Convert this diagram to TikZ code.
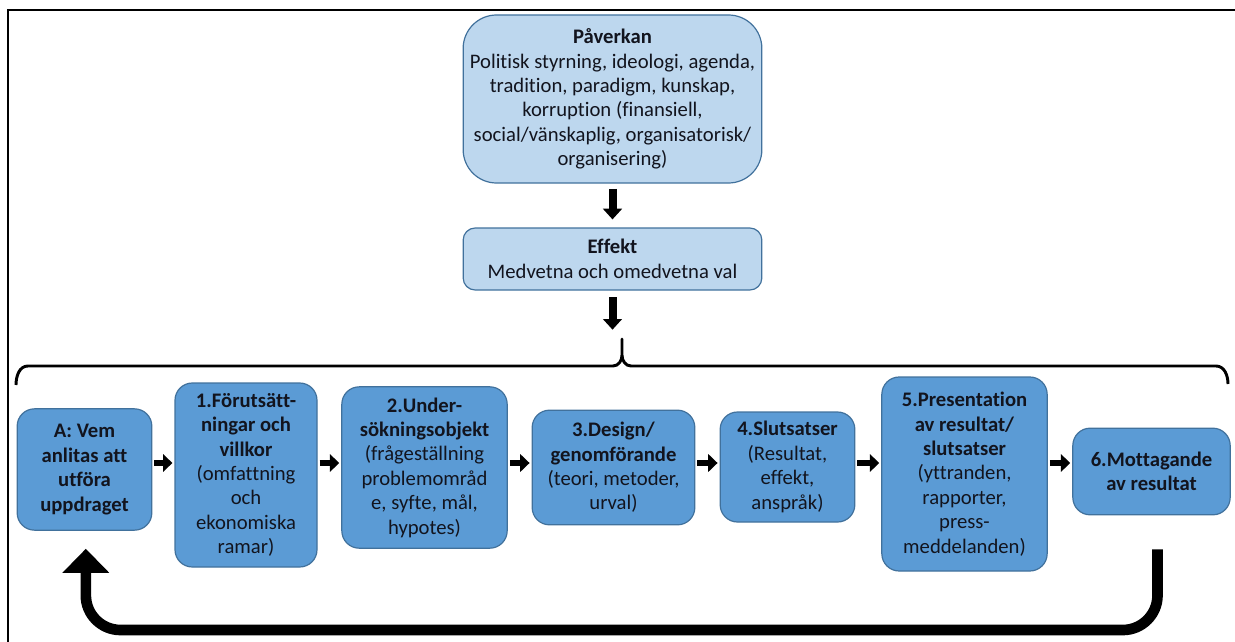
\documentclass[tikz,border=0pt]{standalone}
\usepackage{fontspec}
\setmainfont{Carlito}[Ligatures=NoCommon]
\usetikzlibrary{arrows.meta}
\definecolor{light blue}{RGB}{189, 215, 238}
\definecolor{mid blue}{RGB}{91, 155, 213}
\definecolor{edge blue}{RGB}{65, 113, 156}
\definecolor{ink}{RGB}{18, 20, 30}

\begin{document}
\begin{tikzpicture}[
        x=0.75pt, y=-0.75pt,
        every node/.style={
            font=\fontsize{15.5}{18.3}\selectfont,
            text=ink,
            align=center,
            inner sep=2pt
        },
        topbox/.style={draw=edge blue, line width=0.9pt, fill=light blue, minimum width=224pt},
        stagebox/.style={draw=edge blue, line width=0.9pt, fill=mid blue, rounded corners=13pt},
        bigarrow/.style={line width=6pt, -{Triangle[length=8pt,width=14pt]}},
        smallarrow/.style={line width=5pt, -{Triangle[length=7pt,width=13pt]}, shorten <=1.5pt, shorten >=1.5pt},
        backarrow/.style={line width=8pt, rounded corners=26pt, -{Triangle[length=18pt,width=34pt]}},
        framing/.style={line width=2.2pt}
    ]

    \useasboundingbox (0,0) rectangle (1235,642);
    \draw[framing] (8,642) -- (8,10) -- (1235,10);

    \node[topbox, minimum height=126pt, rounded corners=25pt] (pav) at (612.5,99)
        {\textbf{Påverkan}\\Politisk styrning, ideologi, agenda,\\tradition, paradigm, kunskap,\\korruption (finansiell,\\social/vänskaplig, organisatorisk/\\organisering)};
    \node[topbox, minimum height=46.5pt, rounded corners=9pt] (eff) at (612.5,259)
        {\textbf{Effekt}\\Medvetna och omedvetna val};

    \coordinate (cusp) at (622,339);
    \coordinate (lane) at (0,463);
    \coordinate (loop) at (0,630);

    \draw[bigarrow, shorten <=4pt, shorten >=6pt] (pav.south) -- (eff.north);
    \draw[bigarrow, shorten <=5pt, shorten >=7pt] (eff.south) -- (eff.south |- cusp);

    \draw[line width=2.2pt, line join=round] (16,385) to[out=90,in=180] (28,366) -- (613,366)
        to[out=0,in=-90] (622,355) -- (cusp) -- (622,355) to[out=-90,in=180] (631,366) -- (1216,366)
        to[out=0,in=90] (1228,384);

    \node[stagebox, minimum width=101pt, minimum height=91pt] (A) at (84.5,469.5)
        {\textbf{A: Vem}\\\textbf{anlitas att}\\\textbf{utföra}\\\textbf{uppdraget}};
    \node[stagebox, minimum width=106.5pt, minimum height=138pt] (B1) at (246,475)
        {\textbf{1.Förutsätt-}\\\textbf{ningar och}\\\textbf{villkor}\\(omfattning\\och\\ekonomiska\\ramar)};
    \node[stagebox, minimum width=124pt, minimum height=121pt] (B2) at (424.5,467.5)
        {\textbf{2.Under-}\\\textbf{sökningsobjekt}\\(frågeställning\\problemområd\\e, syfte, mål,\\hypotes)};
    \node[stagebox, minimum width=122pt, minimum height=86pt] (B3) at (613.5,467.5)
        {\textbf{3.Design/}\\\textbf{genomförande}\\(teori, metoder,\\urval)};
    \node[stagebox, minimum width=101pt, minimum height=82.5pt] (B4) at (787.5,467)
        {\textbf{4.Slutsatser}\\(Resultat,\\effekt,\\anspråk)};
    \node[stagebox, minimum width=124pt, minimum height=145.5pt] (B5) at (964.5,474)
        {\textbf{5.Presentation}\\\textbf{av resultat/}\\\textbf{slutsatser}\\(yttranden,\\rapporter,\\press-\\meddelanden)};
    \node[stagebox, minimum width=118pt, minimum height=65pt] (B6) at (1151.5,471.5)
        {\textbf{6.Mottagande}\\\textbf{av resultat}};

    \draw[smallarrow] (A.east |- lane) -- (B1.west |- lane);
    \draw[smallarrow] (B1.east |- lane) -- (B2.west |- lane);
    \draw[smallarrow] (B2.east |- lane) -- (B3.west |- lane);
    \draw[smallarrow] (B3.east |- lane) -- (B4.west |- lane);
    \draw[smallarrow] (B4.east |- lane) -- (B5.west |- lane);
    \draw[smallarrow] (B5.east |- lane) -- (B6.west |- lane);

    \coordinate (retstart) at ([xshift=4.5pt,yshift=-25.5pt]B6.south);
    \coordinate (retend) at ([xshift=1pt]A.south);
    \draw[backarrow, shorten >=13.5pt] (retstart) -- (retstart |- loop) -- (retend |- loop) -- (retend);
\end{tikzpicture}
\end{document}
